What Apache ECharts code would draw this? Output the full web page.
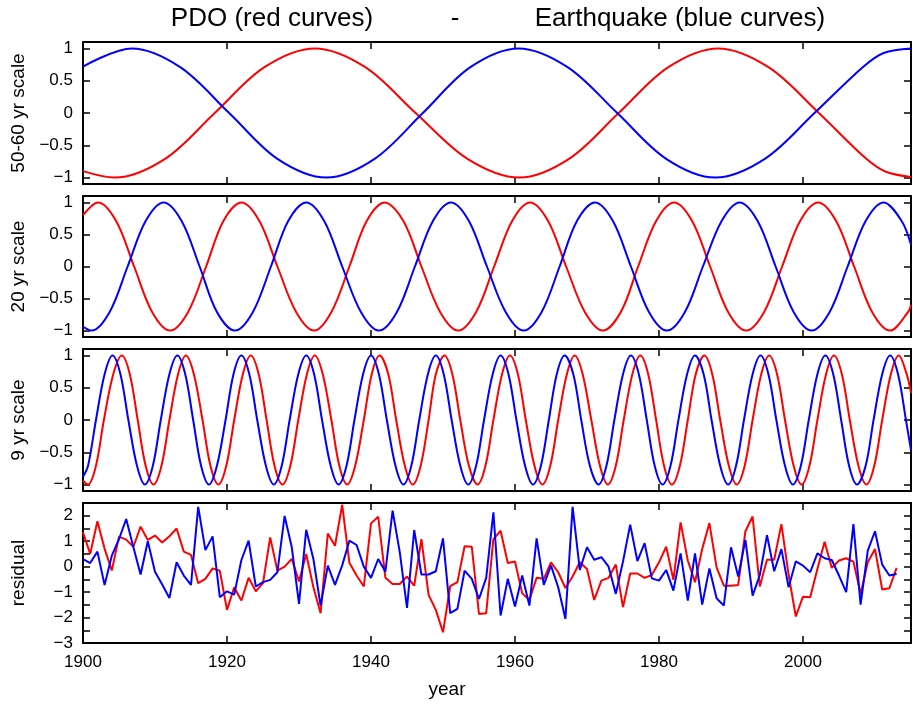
<!DOCTYPE html>
<html>
<head>
<meta charset="utf-8">
<script src="https://cdn.jsdelivr.net/npm/echarts@6/dist/echarts.min.js"></script>
<style>
html,body{margin:0;padding:0;background:#fff;}
#c{width:913px;height:704px;}
</style>
</head>
<body>
<div id="c"></div>
<script>
// ---------- data ----------
const xTicks = [1900, 1920, 1940, 1960, 1980, 2000];
const sineTicks = [-1, -0.5, 0, 0.5, 1];
const panelNames = ['50-60 yr scale', '20 yr scale', '9 yr scale', 'residual'];
const titleLeft = 'PDO (red curves)';
const titleMid = '-';
const titleRight = 'Earthquake (blue curves)';
const xName = 'year';

// 50-60 yr scale: [year, value]
const pdo5060 = [[1900,-0.9],[1904.4,-1],[1911.4,-0.71],[1918.3,0],[1925.2,0.71],[1932.2,1],[1939.2,0.71],[1946.2,0],[1953.4,-0.71],[1960.6,-1],[1967.5,-0.71],[1974.4,0],[1981.3,0.71],[1988.2,1],[1995.2,0.71],[2002.2,0],[2008.8,-0.71],[2011.5,-0.91],[2015,-0.99]];
const eq5060 = [[1900,0.72],[1906.8,1],[1913.5,0.71],[1920.3,0],[1927,-0.71],[1933.8,-1],[1940.5,-0.71],[1947.2,0],[1953.8,0.71],[1960.5,1],[1967.3,0.71],[1974.2,0],[1981,-0.71],[1987.8,-1],[1994.7,-0.71],[2001.6,0],[2008.3,0.71],[2011.2,0.93],[2015,1]];

// 20 yr scale
const pdo20 = [[1900,0.8],[1902.1,1],[1904.6,0.71],[1907.1,0],[1909.6,-0.71],[1912.1,-1],[1914.6,-0.71],[1917.1,0],[1919.5,0.71],[1922.0,1],[1924.5,0.71],[1927.0,0],[1929.6,-0.71],[1932.1,-1],[1934.5,-0.71],[1937.0,0],[1939.4,0.71],[1941.9,1],[1944.5,0.71],[1947.0,0],[1949.6,-0.71],[1952.1,-1],[1954.6,-0.71],[1957.1,0],[1959.6,0.71],[1962.1,1],[1964.6,0.71],[1967.1,0],[1969.7,-0.71],[1972.2,-1],[1974.7,-0.71],[1977.1,0],[1979.6,0.71],[1982.1,1],[1984.6,0.71],[1987.1,0],[1989.6,-0.71],[1992.1,-1],[1994.6,-0.71],[1997.1,0],[1999.6,0.71],[2002.1,1],[2004.6,0.71],[2007.1,0],[2009.6,-0.71],[2012.1,-1],[2014.6,-0.71],[2015,-0.6]];
const eq20 = [[1900,-0.94],[1901.2,-1],[1903.7,-0.71],[1906.2,0],[1908.7,0.71],[1911.2,1],[1913.7,0.71],[1916.2,0],[1918.6,-0.71],[1921.1,-1],[1923.6,-0.71],[1926.1,0],[1928.5,0.71],[1931.0,1],[1933.5,0.71],[1936.0,0],[1938.6,-0.71],[1941.1,-1],[1943.6,-0.71],[1946.1,0],[1948.6,0.71],[1951.1,1],[1953.6,0.71],[1956.1,0],[1958.7,-0.71],[1961.2,-1],[1963.7,-0.71],[1966.2,0],[1968.6,0.71],[1971.1,1],[1973.6,0.71],[1976.1,0],[1978.6,-0.71],[1981.1,-1],[1983.6,-0.71],[1986.1,0],[1988.7,0.71],[1991.2,1],[1993.7,0.71],[1996.2,0],[1998.7,-0.71],[2001.2,-1],[2003.7,-0.71],[2006.2,0],[2008.7,0.71],[2011.2,1],[2013.7,0.71],[2015,0.34]];

// 9 yr scale
const pdo9 = [[1900,-0.94],[1900.7,-1],[1901.8,-0.71],[1902.9,0],[1904.2,0.71],[1905.4,1],[1906.5,0.71],[1907.6,0],[1908.7,-0.71],[1909.8,-1],[1910.9,-0.71],[1912.0,0],[1913.2,0.71],[1914.3,1],[1915.4,0.71],[1916.6,0],[1917.7,-0.71],[1918.8,-1],[1919.9,-0.71],[1921.0,0],[1922.2,0.71],[1923.3,1],[1924.4,0.71],[1925.5,0],[1926.6,-0.71],[1927.7,-1],[1928.8,-0.71],[1929.9,0],[1931.1,0.71],[1932.2,1],[1933.3,0.71],[1934.5,0],[1935.6,-0.71],[1936.7,-1],[1937.8,-0.71],[1939.0,0],[1940.1,0.71],[1941.2,1],[1942.4,0.71],[1943.5,0],[1944.7,-0.71],[1945.8,-1],[1946.9,-0.71],[1948.0,0],[1949.0,0.71],[1950.2,1],[1951.3,0.71],[1952.4,0],[1953.6,-0.71],[1954.8,-1],[1955.9,-0.71],[1957.0,0],[1958.2,0.71],[1959.3,1],[1960.4,0.71],[1961.5,0],[1962.7,-0.71],[1963.8,-1],[1964.9,-0.71],[1966.0,0],[1967.2,0.71],[1968.3,1],[1969.4,0.71],[1970.6,0],[1971.8,-0.71],[1972.9,-1],[1974.0,-0.71],[1975.1,0],[1976.3,0.71],[1977.4,1],[1978.5,0.71],[1979.6,0],[1980.7,-0.71],[1981.8,-1],[1982.9,-0.71],[1984.0,0],[1985.1,0.71],[1986.3,1],[1987.4,0.71],[1988.5,0],[1989.7,-0.71],[1990.8,-1],[1991.9,-0.71],[1993.0,0],[1994.2,0.71],[1995.3,1],[1996.4,0.71],[1997.5,0],[1998.7,-0.71],[1999.8,-1],[2000.9,-0.71],[2002.0,0],[2003.2,0.71],[2004.3,1],[2005.4,0.71],[2006.5,0],[2007.7,-0.71],[2008.8,-1],[2009.9,-0.71],[2011.0,0],[2012.2,0.71],[2013.3,1],[2014.4,0.71],[2015,0.42]];
const eq9 = [[1900,-0.88],[1900.7,-0.71],[1901.8,0],[1903.0,0.71],[1904.1,1],[1905.2,0.71],[1906.3,0],[1907.5,-0.71],[1908.6,-1],[1909.7,-0.71],[1910.8,0],[1912.0,0.71],[1913.1,1],[1914.2,0.71],[1915.3,0],[1916.4,-0.71],[1917.5,-1],[1918.6,-0.71],[1919.8,0],[1920.9,0.71],[1922.0,1],[1923.1,0.71],[1924.2,0],[1925.4,-0.71],[1926.5,-1],[1927.6,-0.71],[1928.7,0],[1929.9,0.71],[1931.0,1],[1932.1,0.71],[1933.2,0],[1934.4,-0.71],[1935.5,-1],[1936.6,-0.71],[1937.7,0],[1938.9,0.71],[1940.0,1],[1941.1,0.71],[1942.2,0],[1943.4,-0.71],[1944.5,-1],[1945.6,-0.71],[1946.7,0],[1947.9,0.71],[1949.0,1],[1950.1,0.71],[1951.2,0],[1952.4,-0.71],[1953.5,-1],[1954.6,-0.71],[1955.7,0],[1956.9,0.71],[1958.0,1],[1959.1,0.71],[1960.2,0],[1961.4,-0.71],[1962.5,-1],[1963.6,-0.71],[1964.7,0],[1965.8,0.71],[1966.9,1],[1968.1,0.71],[1969.2,0],[1970.4,-0.71],[1971.6,-1],[1972.7,-0.71],[1973.8,0],[1975.0,0.71],[1976.1,1],[1977.2,0.71],[1978.3,0],[1979.4,-0.71],[1980.5,-1],[1981.6,-0.71],[1982.7,0],[1983.9,0.71],[1985.0,1],[1986.2,0.71],[1987.3,0],[1988.5,-0.71],[1989.6,-1],[1990.7,-0.71],[1991.8,0],[1993.0,0.71],[1994.1,1],[1995.2,0.71],[1996.3,0],[1997.5,-0.71],[1998.6,-1],[1999.7,-0.71],[2000.8,0],[2002.0,0.71],[2003.1,1],[2004.2,0.71],[2005.3,0],[2006.4,-0.71],[2007.5,-1],[2008.7,-0.71],[2009.8,0],[2011.0,0.71],[2012.1,1],[2013.2,0.71],[2014.3,0],[2015,-0.47]];

// residual (yearly)
const resYears = [1900,1901,1902,1903,1904,1905,1906,1907,1908,1909,1910,1911,1912,1913,1914,1915,1916,1917,1918,1919,1920,1921,1922,1923,1924,1925,1926,1927,1928,1929,1930,1931,1932,1933,1934,1935,1936,1937,1938,1939,1940,1941,1942,1943,1944,1945,1946,1947,1948,1949,1950,1951,1952,1953,1954,1955,1956,1957,1958,1959,1960,1961,1962,1963,1964,1965,1966,1967,1968,1969,1970,1971,1972,1973,1974,1975,1976,1977,1978,1979,1980,1981,1982,1983,1984,1985,1986,1987,1988,1989,1990,1991,1992,1993,1994,1995,1996,1997,1998,1999,2000,2001,2002,2003,2004,2005,2006,2007,2008,2009,2010,2011,2012,2013];
const resPdo = [1.35,0.5,1.78,0.7,-0.15,1.18,1.06,0.78,1.57,1.05,1.22,0.95,1.19,1.5,0.59,0.46,-0.65,-0.48,-0.07,-0.16,-1.7,-0.81,-1.33,-0.44,-0.97,-0.65,1.15,-0.16,0,0.3,-0.58,0.5,-0.81,-1.83,1.3,0.82,2.43,0.15,-0.35,-0.78,1.7,1.96,-0.44,-0.68,-0.68,-0.39,-0.75,1.08,-1.11,-1.7,-2.58,-0.77,-0.61,0.8,0.78,-1.86,-1.83,1.08,1.41,0.14,0.2,-1.05,-1.31,-0.44,-0.48,0.17,-0.22,-0.84,-0.39,0.17,-0.09,-1.31,-0.55,-0.44,0.08,-1.59,-0.27,-0.27,-0.44,-0.33,0.17,0.78,-0.52,1.74,0.24,-0.61,0.69,1.71,-0.03,-0.75,-0.75,-0.72,1.39,1.97,-0.78,0.27,0.27,1.67,-0.31,-1.96,-1.18,-1.2,-0.09,0.98,-0.05,0.24,0.33,0.2,-1.07,0.17,0.69,-0.9,-0.85,-0.05];
const resEq = [0.3,0.14,0.59,-0.72,0.43,1.08,1.87,0.76,-0.31,1.0,-0.2,-0.7,-1.23,0.17,-0.35,-0.72,2.35,0.65,1.19,-1.2,-0.97,-1.1,0.26,1.02,-0.78,-0.61,-0.52,-0.22,1.99,0.76,-1.46,1.45,0.3,-1.53,0.04,-0.72,0.05,1.02,0.85,0,-0.44,0.3,-0.2,2.2,0.56,-1.62,1.44,-0.31,-0.31,-0.18,1.11,-1.83,-1.66,-0.16,-0.48,-1.27,-0.44,2.13,-1.92,-0.48,-1.57,-0.35,-1.53,1.11,-0.72,0.04,-0.81,-2.05,2.35,-0.13,0.76,0.27,0.37,0,-1.07,0.2,1.65,0.22,0.92,-0.46,-0.55,-0.13,-0.94,0.52,-1.33,0.52,-1.49,-0.07,-1.24,-1.53,0.76,-0.39,1.05,-1.14,-0.33,1.24,-0.18,0.69,-0.81,0.21,0.04,-0.22,0.52,0.33,0.26,-0.35,-1.0,1.67,-1.49,0.63,1.39,0.08,-0.35,-0.29];

// ---------- chart ----------
const RED = '#ff0000', BLUE = '#0000ff', INK = '#000000';
const FONT = '"Liberation Sans", Arial, Helvetica, sans-serif';
const tops = [42, 196, 349, 503];
const heights = [142, 141, 142, 140];
const SMOOTH = 0.34;

const chart = echarts.init(document.getElementById('c'), null, {renderer: 'canvas'});

const grids = tops.map((t, i) => ({left: 83, width: 828, top: t, height: heights[i], containLabel: false}));

function fmtNum(v) {
  const s = String(Math.round(v * 100) / 100);
  return s.charAt(0) === '-' ? '\u2212' + s.slice(1) : s;
}

function xAx(i, pos) {
  const bottomLabels = (pos === 'bottom' && i === 3);
  return {
    type: 'value', gridIndex: i, position: pos, min: 1900, max: 2015,
    axisLine: {show: true, onZero: false, lineStyle: {color: INK, width: 2}},
    axisTick: {show: true, inside: true, length: 7, lineStyle: {color: INK, width: 1.5}, customValues: xTicks},
    axisLabel: {show: bottomLabels, customValues: xTicks, color: INK, fontSize: 17, fontFamily: FONT, margin: 11,
                formatter: v => String(v)},
    splitLine: {show: false}
  };
}
function yAx(i, pos) {
  const isRes = i === 3;
  const ax = {
    type: 'value', gridIndex: i, position: pos,
    min: isRes ? -3 : -1.1, max: isRes ? 2.5 : 1.1,
    axisLine: {show: true, onZero: false, lineStyle: {color: INK, width: 2}},
    axisTick: {show: true, inside: true, length: 7, lineStyle: {color: INK, width: 1.5}},
    axisLabel: {show: pos === 'left', color: INK, fontSize: 17, fontFamily: FONT, margin: 10},
    splitLine: {show: false}
  };
  if (isRes) {
    ax.interval = 0.5;
    ax.axisLabel.formatter = v => (Math.abs(v - Math.round(v)) < 1e-6 && v < 2.4) ? fmtNum(Math.round(v)) : '';
  } else {
    ax.axisTick.customValues = sineTicks;
    ax.axisLabel.customValues = sineTicks;
    ax.axisLabel.formatter = v => fmtNum(v);
  }
  if (pos === 'left') {
    ax.name = panelNames[i];
    ax.nameLocation = 'middle';
    ax.nameRotate = 90;
    ax.nameGap = 55;
    ax.nameTextStyle = {color: INK, fontSize: 19, fontFamily: FONT};
  }
  return ax;
}

const xAxes = [], yAxes = [];
for (let i = 0; i < 4; i++) xAxes.push(xAx(i, 'bottom'));
for (let i = 0; i < 4; i++) xAxes.push(xAx(i, 'top'));
for (let i = 0; i < 4; i++) yAxes.push(yAx(i, 'left'));
for (let i = 0; i < 4; i++) yAxes.push(yAx(i, 'right'));

function line(data, color, gi, smooth) {
  return {
    type: 'line', xAxisIndex: gi, yAxisIndex: gi, data: data, smooth: smooth,
    showSymbol: false, symbol: 'none', clip: true, animation: false,
    lineStyle: {color: color, width: 2}, itemStyle: {color: color}
  };
}

const resPdoData = resYears.map((y, k) => [y, resPdo[k]]);
const resEqData = resYears.map((y, k) => [y, resEq[k]]);

function label(text, x, y, size) {
  return {type: 'text', x: x, y: y, silent: true,
          style: {text: text, fill: INK, font: size + 'px ' + FONT, align: 'center', verticalAlign: 'middle',
                  textAlign: 'center', textVerticalAlign: 'middle'}};
}

const option = {
  backgroundColor: '#ffffff',
  animation: false,
  grid: grids,
  xAxis: xAxes,
  yAxis: yAxes,
  series: [
    line(pdo5060, RED, 0, SMOOTH), line(eq5060, BLUE, 0, SMOOTH),
    line(pdo20, RED, 1, SMOOTH), line(eq20, BLUE, 1, SMOOTH),
    line(pdo9, RED, 2, SMOOTH), line(eq9, BLUE, 2, SMOOTH),
    line(resPdoData, RED, 3, false), line(resEqData, BLUE, 3, false)
  ],
  graphic: [
    label(titleLeft, 272, 19, 26),
    label(titleMid, 455, 19, 26),
    label(titleRight, 680, 19, 26),
    label(xName, 447, 690, 19)
  ]
};
chart.setOption(option);
</script>
</body>
</html>
